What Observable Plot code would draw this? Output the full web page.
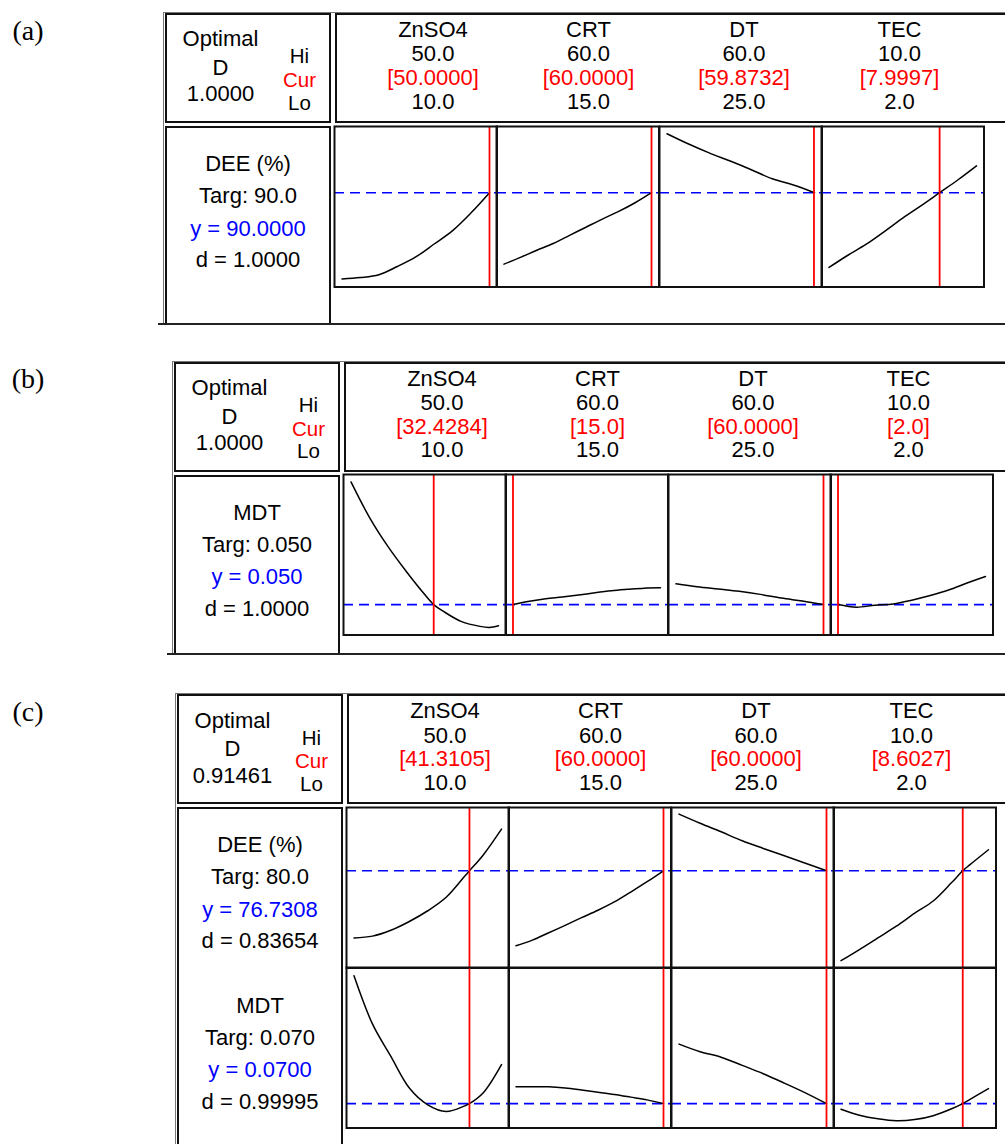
<!DOCTYPE html>
<html><head><meta charset="utf-8">
<script src="https://cdn.jsdelivr.net/npm/d3@7"></script>
<script src="https://cdn.jsdelivr.net/npm/@observablehq/plot@0.6"></script>
<style>
body{margin:0;background:#fff;}
#root{position:relative;width:1005px;height:1144px;overflow:hidden;font-family:"Liberation Sans",Arial,sans-serif;}
.abs{position:absolute;box-sizing:border-box;}
.t{position:absolute;transform:translate(-50%,-50%);white-space:nowrap;font-size:22px;line-height:1;color:#000;}
.sm{font-size:20.5px;}
.lab{font-family:"Liberation Serif","Times New Roman",serif;font-size:28px;}
</style></head><body><div id="root"></div>
<script>
// ---------- data ----------
const factors = ["ZnSO4", "CRT", "DT", "TEC"];
const hiLevels = ["50.0", "60.0", "60.0", "10.0"];
const loLevels = ["10.0", "15.0", "25.0", "2.0"];
const xDomains = [[10, 50], [15, 60], [25, 60], [2, 10]];

const curA = [50.0, 60.0, 59.8732, 7.9997];
const curALabels = ["[50.0000]", "[60.0000]", "[59.8732]", "[7.9997]"];
const curB = [32.4284, 15.0, 60.0, 2.0];
const curBLabels = ["[32.4284]", "[15.0]", "[60.0000]", "[2.0]"];
const curC = [41.3105, 60.0, 60.0, 8.6027];
const curCLabels = ["[41.3105]", "[60.0000]", "[60.0000]", "[8.6027]"];

const optimalD = ["1.0000", "1.0000", "0.91461"];

const respA = ["DEE (%)", "Targ: 90.0", "y = 90.0000", "d = 1.0000"];
const respB = ["MDT", "Targ: 0.050", "y = 0.050", "d = 1.0000"];
const respC1 = ["DEE (%)", "Targ: 80.0", "y = 76.7308", "d = 0.83654"];
const respC2 = ["MDT", "Targ: 0.070", "y = 0.0700", "d = 0.99995"];

const yCurA = 90.0, yCurB = 0.050, yCurC1 = 76.7308, yCurC2 = 0.0700;
const yDomA = [70.33, 103.81];
const yDomB = [0.0197, 0.1797];
const yDomC1 = [55.11, 90.8];
const yDomC2 = [0.0453, 0.208];

const znX = [10, 15, 20, 25, 30, 35, 40, 45, 50];
const crtX = [15, 20, 25, 30, 35, 40, 45, 50, 55, 60];
const dtX = [25, 30, 35, 40, 45, 50, 55, 60];
const tecX = [2, 3, 4, 5, 6, 7, 8, 9, 10];

// (a) DEE
const aDEE_zn = [72.0, 72.3, 72.9, 74.6, 76.6, 79.3, 82.1, 85.8, 90.0];
const aDEE_crt = [75.1, 76.5, 78.0, 79.4, 81.1, 82.8, 84.5, 86.1, 87.9, 90.0];
const aDEE_dt = [102.3, 100.2, 98.3, 96.6, 94.8, 92.9, 91.6, 90.0];
const aDEE_tec = [74.4, 76.9, 79.2, 81.9, 84.7, 87.3, 90.0, 92.7, 95.6];

// (b) MDT
const bZnX = [10, 15, 20, 25, 30, 32.4284, 35, 40, 45, 47.5, 50];
const bMDT_zn = [0.1723, 0.137, 0.108, 0.083, 0.060, 0.050, 0.0434, 0.033, 0.0283, 0.0273, 0.029];
const bMDT_crt = [0.050, 0.0533, 0.0558, 0.0575, 0.0595, 0.0618, 0.0638, 0.0652, 0.0664, 0.0667];
const bMDT_dt = [0.0707, 0.0678, 0.0655, 0.0632, 0.0602, 0.0565, 0.0535, 0.050];
const bMDT_tec = [0.050, 0.0474, 0.0494, 0.0507, 0.0544, 0.059, 0.0645, 0.0715, 0.078];

// (c) DEE and MDT
const cZnX = [10, 15, 20, 25, 30, 35, 40, 41.3105, 45, 50];
const cTecX = [2, 3, 4, 5, 6, 7, 8, 8.6027, 9, 10];
const cDEE_zn = [61.8, 62.2, 63.5, 65.45, 67.84, 70.84, 75.5, 76.73, 80.2, 86.0];
const cDEE_crt = [60.06, 61.3, 62.95, 64.6, 66.3, 67.95, 69.8, 72.0, 74.3, 76.73];
const cDEE_dt = [89.33, 87.3, 85.4, 83.4, 81.7, 80.06, 78.4, 76.73];
const cDEE_tec = [56.73, 59.2, 61.8, 64.4, 67.3, 70.0, 74.1, 76.73, 78.1, 81.4];
const cMDT_zn = [0.1996, 0.1508, 0.1178, 0.0858, 0.0688, 0.062, 0.0677, 0.070, 0.0808, 0.1096];
const cMDT_crt = [0.087, 0.087, 0.087, 0.0858, 0.0838, 0.0816, 0.0793, 0.0766, 0.0738, 0.070];
const cMDT_dt = [0.1303, 0.1226, 0.1171, 0.1088, 0.1003, 0.0908, 0.0809, 0.070];
const cMDT_tec = [0.0643, 0.0583, 0.0546, 0.0526, 0.0538, 0.0578, 0.0648, 0.070, 0.0743, 0.0853];

// ---------- layout ----------
const panels = [
  {label: "(a)", ox: 163, oy: 12, bottom: 324, bottomLine: {y: 322.5, x0: 158}, D: optimalD[0],
   cur: curA, curLabels: curALabels,
   rows: [{resp: respA, yDom: yDomA, yCur: yCurA,
           curves: [[znX, aDEE_zn], [crtX, aDEE_crt], [dtX, aDEE_dt], [tecX, aDEE_tec]]}]},
  {label: "(b)", ox: 172, oy: 360.7, bottom: 655, bottomLine: {y: 653, x0: 167}, D: optimalD[1],
   cur: curB, curLabels: curBLabels,
   rows: [{resp: respB, yDom: yDomB, yCur: yCurB,
           curves: [[bZnX, bMDT_zn], [crtX, bMDT_crt], [dtX, bMDT_dt], [tecX, bMDT_tec]]}]},
  {label: "(c)", ox: 175, oy: 693.3, bottom: 1150, bottomLine: null, D: optimalD[2],
   cur: curC, curLabels: curCLabels,
   rows: [{resp: respC1, yDom: yDomC1, yCur: yCurC1,
           curves: [[cZnX, cDEE_zn], [crtX, cDEE_crt], [dtX, cDEE_dt], [cTecX, cDEE_tec]]},
          {resp: respC2, yDom: yDomC2, yCur: yCurC2,
           curves: [[cZnX, cMDT_zn], [crtX, cMDT_crt], [dtX, cMDT_dt], [cTecX, cMDT_tec]]}]}
];

const root = document.getElementById("root");
function box(l, t, w, h, css) {
  const d = document.createElement("div");
  d.className = "abs";
  Object.assign(d.style, {left: l + "px", top: t + "px", width: w + "px", height: h + "px"}, css || {});
  root.appendChild(d);
  return d;
}
function text(x, y, s, color, cls) {
  const d = document.createElement("div");
  d.className = "t" + (cls ? " " + cls : "");
  d.textContent = s;
  d.style.left = x + "px";
  d.style.top = y + "px";
  if (color) d.style.color = color;
  root.appendChild(d);
}

const CW = 162.5, CH = 160.5;
function cell(xs, ys, xDom, yDom, xCur, yCur) {
  const data = xs.map((x, i) => ({x, y: ys[i]}));
  return Plot.plot({
    width: CW, height: CH, margin: 0,
    x: {domain: xDom, inset: 7.5, axis: null},
    y: {domain: yDom, axis: null},
    style: {background: "transparent", overflow: "visible"},
    marks: [
      Plot.ruleY([yCur], {stroke: "#0000ff", strokeWidth: 1.6, strokeDasharray: "10,6"}),
      Plot.line(data, {x: "x", y: "y", stroke: "black", strokeWidth: 1.5, curve: "catmull-rom"}),
      Plot.ruleX([xCur], {stroke: "#ff0000", strokeWidth: 1.8}),
      Plot.frame({stroke: "#111", strokeWidth: 2})
    ]
  });
}

const BK = "2px solid #111";
for (const p of panels) {
  const {ox, oy} = p;
  // panel label
  text(28, oy + 18.5, p.label, "#000", "lab");
  // outer thin frame
  box(ox, oy, 1.2, p.bottom - oy, {background: "#777"});
  box(ox, oy, 1010 - ox, 1.2, {background: "#777"});
  // optimal box
  box(ox + 2, oy + 1, 166, 110, {border: BK});
  text(ox + 57.5, oy + 27.3, "Optimal");
  text(ox + 57.5, oy + 55.8, "D");
  text(ox + 57.5, oy + 82.4, p.D);
  text(ox + 136.5, oy + 44.2, "Hi", null, "sm");
  text(ox + 136.5, oy + 67.8, "Cur", "#ff0000", "sm");
  text(ox + 136.5, oy + 90.5, "Lo", null, "sm");
  // header box
  box(ox + 172, oy + 1, 1010 - ox - 172, 110, {borderTop: BK, borderLeft: BK, borderBottom: BK});
  factors.forEach((f, i) => {
    const cx = ox + 270 + i * 155.5;
    text(cx, oy + 18, f);
    text(cx, oy + 42.4, hiLevels[i]);
    text(cx, oy + 65.8, p.curLabels[i], "#ff0000");
    text(cx, oy + 89.6, loLevels[i]);
  });
  // response box
  box(ox + 2, oy + 114, 166, p.bottom - oy - 114, {borderTop: BK, borderLeft: BK, borderRight: BK});
  p.rows.forEach((r, ri) => {
    const ry = oy + ri * 160.5;
    const colors = ["#000", "#000", "#0000ff", "#000"];
    const offs = [152, 184, 216.5, 248];
    r.resp.forEach((s, k) => text(ox + 85, ry + offs[k], s, colors[k]));
    r.curves.forEach(([xs, ys], i) => {
      const d = box(ox + 170.5 + i * CW, oy + 113.5 + ri * CH, CW, CH, {});
      d.appendChild(cell(xs, ys, xDomains[i], r.yDom, p.cur[i], r.yCur));
    });
  });
  if (p.bottomLine) box(p.bottomLine.x0, p.bottomLine.y, 1010 - p.bottomLine.x0, 2.2, {background: "#222"});
}
</script></body></html>
